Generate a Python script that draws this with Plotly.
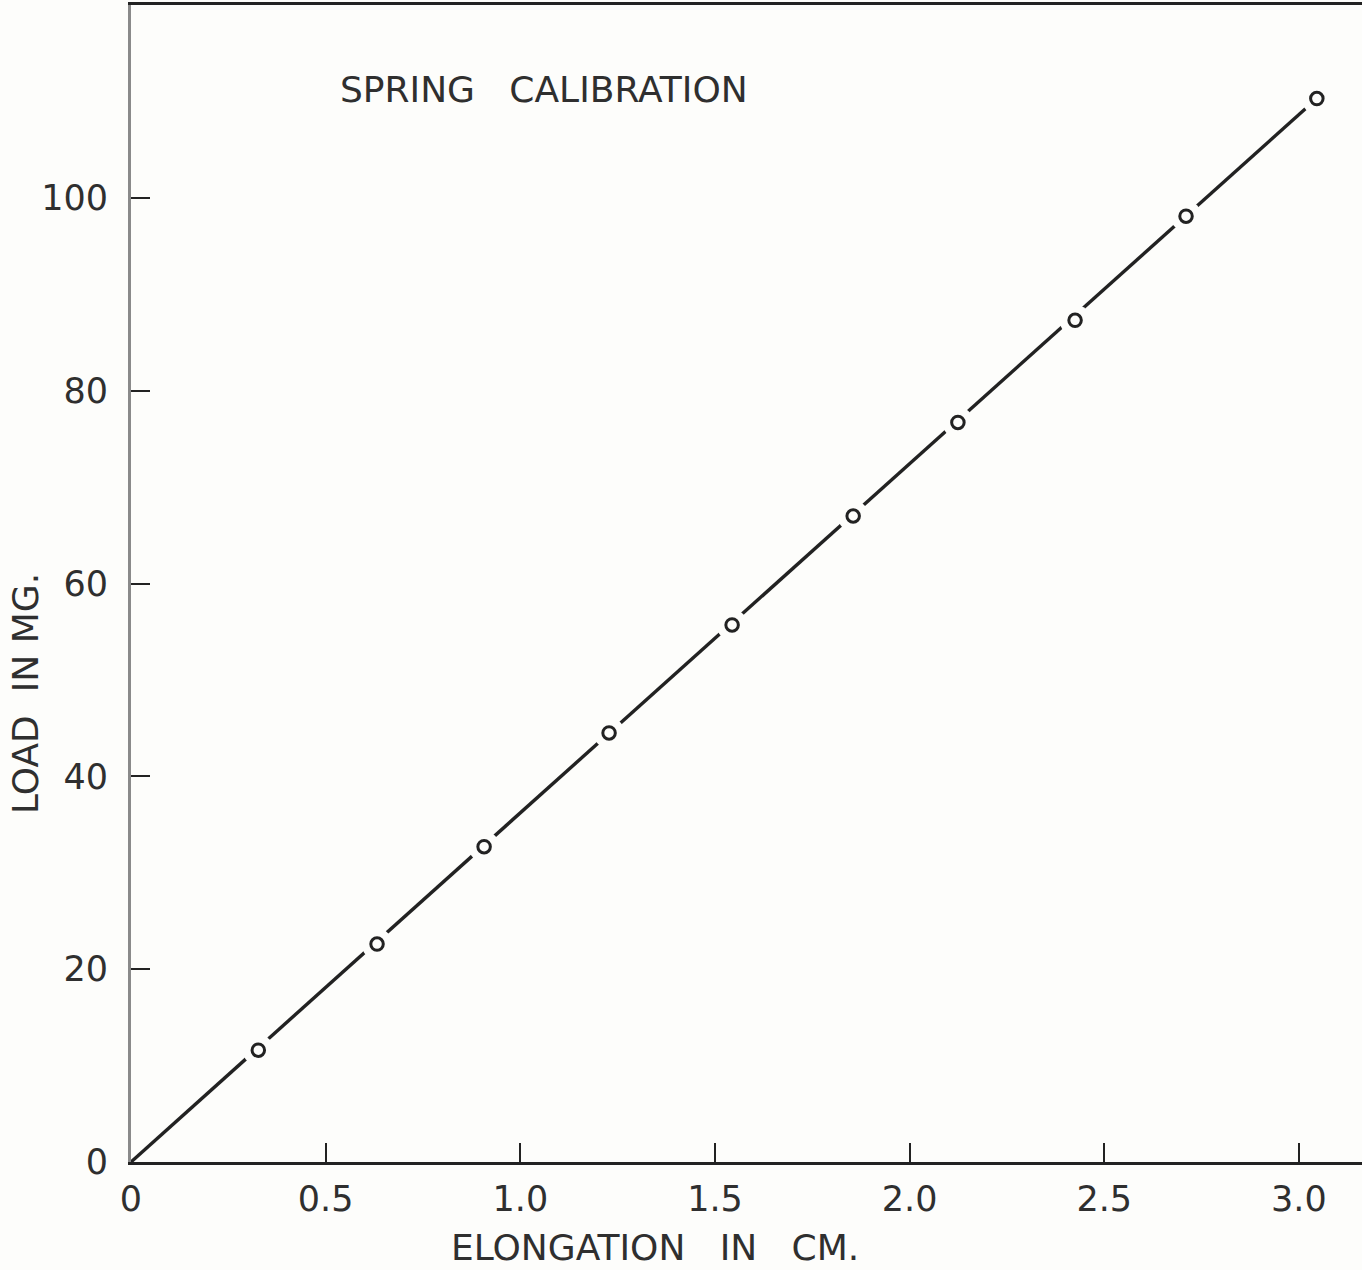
import plotly.graph_objects as go

# Measured spring calibration points
elongation_cm = [0.327, 0.632, 0.907, 1.228, 1.544, 1.855, 2.124, 2.425, 2.710, 3.046]
load_mg = [11.6, 22.6, 32.7, 44.5, 55.7, 67.0, 76.7, 87.3, 98.1, 110.3]

# Straight calibration line through the origin
fit_x = [0.0, 3.046]
fit_y = [0.0, 110.3]

x_tickvals = [0, 0.5, 1.0, 1.5, 2.0, 2.5, 3.0]
x_ticktext = ["0", "0.5", "1.0", "1.5", "2.0", "2.5", "3.0"]
y_tickvals = [0, 20, 40, 60, 80, 100]
y_ticktext = ["0", "20", "40", "60", "80", "100"]

PAPER = "#fdfdfb"
INK = "#222222"
TEXT = "#2f2f2f"
FONT = "DejaVu Sans"

fig = go.Figure()

# calibration line
fig.add_trace(go.Scatter(
    x=fit_x, y=fit_y, mode="lines",
    line=dict(color=INK, width=3.4),
    hoverinfo="skip", showlegend=False,
))
# paper-coloured halo that breaks the line around each point
fig.add_trace(go.Scatter(
    x=elongation_cm, y=load_mg, mode="markers",
    marker=dict(size=31, color=PAPER, line=dict(width=0)),
    hoverinfo="skip", showlegend=False,
))
# open circles
fig.add_trace(go.Scatter(
    x=elongation_cm, y=load_mg, mode="markers",
    marker=dict(size=12.5, color=PAPER, line=dict(width=3, color=INK)),
    showlegend=False,
))

fig.update_xaxes(
    range=[0, 3.162],
    tickmode="array", tickvals=x_tickvals, ticktext=x_ticktext,
    ticks="inside", ticklen=19, tickwidth=2, tickcolor=INK,
    ticklabelstandoff=4,
    showline=True, linecolor=INK, linewidth=3, mirror=True,
    showgrid=False, zeroline=False,
    tickfont=dict(family=FONT, size=35, color=TEXT),
)
fig.update_yaxes(
    range=[0, 120],
    tickmode="array", tickvals=y_tickvals, ticktext=y_ticktext,
    ticks="inside", ticklen=19, tickwidth=2, tickcolor=INK,
    ticklabelstandoff=13,
    showline=True, linecolor="#8a8a8a", linewidth=3,
    showgrid=False, zeroline=False,
    tickfont=dict(family=FONT, size=35, color=TEXT),
)

fig.add_annotation(
    text="SPRING\u00a0\u00a0\u00a0CALIBRATION",
    xref="paper", yref="paper", x=(338 - 131) / 1231, y=(1162 - 89) / 1157,
    xanchor="left", yanchor="middle", showarrow=False,
    font=dict(family=FONT, size=36, color=TEXT),
)
fig.add_annotation(
    text="ELONGATION\u00a0\u00a0\u00a0IN\u00a0\u00a0\u00a0CM.",
    xref="paper", yref="paper", x=(655 - 131) / 1231, y=-(1247 - 1162) / 1157,
    xanchor="center", yanchor="middle", showarrow=False,
    font=dict(family=FONT, size=36, color=TEXT),
)
fig.add_annotation(
    text="LOAD\u00a0\u00a0IN\u00a0MG.",
    xref="paper", yref="paper", x=-(131 - 25) / 1231, y=(1162 - 694) / 1157,
    xanchor="center", yanchor="middle", textangle=-90, showarrow=False,
    font=dict(family=FONT, size=36, color=TEXT),
)

fig.update_layout(
    width=1362, height=1270,
    margin=dict(l=131, r=0, t=5, b=108),
    paper_bgcolor=PAPER, plot_bgcolor=PAPER,
    showlegend=False,
)

fig.write_html("out.html")
